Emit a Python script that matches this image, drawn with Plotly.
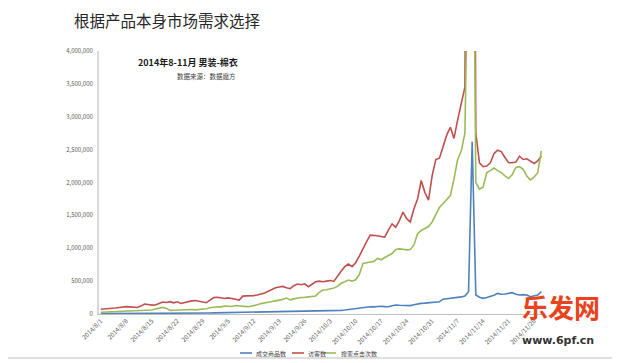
import pandas as pd
import plotly.graph_objects as go

dates = pd.date_range("2014-08-01", "2014-11-30", freq="D")
names = ["成交商品数", "访客数", "搜索点击次数"]
colors = ["#4F81BD", "#C0504D", "#9BBB59"]

deals = [5e3, 5e3, 6e3, 6e3, 7e3, 7e3, 8e3, 8e3, 8e3, 9e3, 9e3, 10e3, 10e3, 11e3, 11e3, 12e3, 13e3, 13e3, 12e3, 12e3,
         13e3, 13e3, 13e3, 14e3, 14e3, 15e3, 15e3, 15e3, 14e3, 15e3, 16e3, 17e3, 18e3, 18e3, 19e3, 19e3, 19e3, 20e3, 20e3, 21e3,
         22e3, 23e3, 24e3, 25e3, 26e3, 27e3, 28e3, 30e3, 32e3, 33e3, 35e3, 34e3, 33e3, 35e3, 36e3, 37e3, 37e3, 38e3, 38e3, 40e3,
         42e3, 44e3, 45e3, 46e3, 46e3, 50e3, 55e3, 60e3, 68e3, 75e3, 80e3, 87e3, 95e3, 100e3, 111e3, 108e3, 115e3, 118e3, 112e3, 110e3,
         125e3, 137e3, 132e3, 130e3, 128e3, 127e3, 140e3, 155e3, 162e3, 165e3, 168e3, 172e3, 180e3, 187e3, 225e3, 232e3, 238e3, 235e3, 245e3, 260e3,
         275e3, 340e3, 2.62e6, 289e3, 255e3, 238e3, 250e3, 263e3, 285e3, 314e3, 300e3, 305e3, 320e3, 324e3, 300e3, 289e3, 295e3, 290e3, 263e3, 275e3,
         289e3, 340e3]

visitors = [72e3, 75e3, 78e3, 85e3, 92e3, 100e3, 110e3, 112e3, 108e3, 104e3, 100e3, 120e3, 150e3, 145e3, 135e3, 138e3, 160e3, 182e3, 175e3, 188e3,
            170e3, 185e3, 160e3, 175e3, 195e3, 200e3, 205e3, 195e3, 180e3, 172e3, 210e3, 250e3, 255e3, 240e3, 235e3, 245e3, 230e3, 225e3, 212e3, 272e3,
            275e3, 272e3, 280e3, 290e3, 305e3, 318e3, 345e3, 378e3, 400e3, 410e3, 420e3, 400e3, 385e3, 430e3, 455e3, 445e3, 460e3, 416e3, 460e3, 490e3,
            500e3, 490e3, 500e3, 510e3, 495e3, 580e3, 650e3, 720e3, 760e3, 720e3, 780e3, 880e3, 1.00e6, 1.10e6, 1.20e6, 1.20e6, 1.19e6, 1.18e6, 1.17e6, 1.28e6,
            1.37e6, 1.32e6, 1.42e6, 1.55e6, 1.45e6, 1.40e6, 1.60e6, 1.75e6, 2.03e6, 1.85e6, 1.73e6, 2.10e6, 2.35e6, 2.37e6, 2.55e6, 2.72e6, 2.84e6, 2.67e6, 2.95e6, 3.20e6,
            3.45e6, 12e6, 15e6, 2.75e6, 2.30e6, 2.24e6, 2.25e6, 2.30e6, 2.44e6, 2.49e6, 2.47e6, 2.38e6, 2.30e6, 2.30e6, 2.31e6, 2.40e6, 2.35e6, 2.36e6, 2.33e6, 2.29e6,
            2.33e6, 2.40e6]

clicks = [26e3, 28e3, 30e3, 33e3, 35e3, 37e3, 40e3, 41e3, 43e3, 45e3, 48e3, 50e3, 52e3, 55e3, 60e3, 75e3, 90e3, 100e3, 85e3, 55e3,
          58e3, 60e3, 55e3, 60e3, 70e3, 68e3, 62e3, 65e3, 72e3, 80e3, 95e3, 105e3, 110e3, 108e3, 122e3, 118e3, 115e3, 130e3, 125e3, 111e3,
          112e3, 115e3, 125e3, 140e3, 158e3, 165e3, 180e3, 190e3, 200e3, 210e3, 222e3, 243e3, 215e3, 230e3, 245e3, 250e3, 253e3, 258e3, 263e3, 275e3,
          330e3, 365e3, 368e3, 380e3, 395e3, 420e3, 467e3, 490e3, 517e3, 500e3, 520e3, 600e3, 770e3, 780e3, 790e3, 800e3, 845e3, 825e3, 860e3, 890e3,
          920e3, 980e3, 990e3, 985e3, 975e3, 980e3, 1.05e6, 1.22e6, 1.27e6, 1.30e6, 1.33e6, 1.40e6, 1.50e6, 1.62e6, 1.68e6, 1.74e6, 1.80e6, 2.05e6, 2.35e6, 2.48e6,
          2.75e6, 6.0e6, 9.0e6, 2.00e6, 1.90e6, 1.93e6, 2.15e6, 2.18e6, 2.22e6, 2.18e6, 2.15e6, 2.10e6, 2.06e6, 2.12e6, 2.23e6, 2.24e6, 2.20e6, 2.10e6, 2.04e6, 2.08e6,
          2.15e6, 2.48e6]

series = [deals, visitors, clicks]

tick_dates = pd.date_range("2014-08-01", "2014-11-30", freq="7D")
tick_text = [f"{d.year}/{d.month}/{d.day}" for d in tick_dates]
y_ticks = list(range(0, 4000001, 500000))
y_text = [f"{v:,}" for v in y_ticks]

# page is offset by the browser's 8px body margin: lay out in (ref - 8) coordinates
OFF = 8
L, R, T, B = 99 - OFF, 545 - OFF, 51 - OFF, 314 - OFF
W, H = 620 - OFF, 363 - OFF
PW, PH = R - L, B - T


def px(x):
    return (x - OFF - L) / PW


def py(y):
    return (B - (y - OFF)) / PH


FONT = "Noto Sans CJK SC"
fig = go.Figure()
for name, vals, col in zip(names, series, colors):
    fig.add_trace(go.Scatter(x=dates, y=vals, mode="lines", name=name,
                             line=dict(color=col, width=1.6), showlegend=False))

fig.update_layout(
    width=W, height=H,
    margin=dict(l=L, r=W - R, t=T, b=H - B, autoexpand=False),
    paper_bgcolor="white", plot_bgcolor="white",
    font=dict(family=FONT, color="#595959", size=6),
    xaxis=dict(range=["2014-07-31 12:00", "2014-12-01 00:00"], tickvals=list(tick_dates), ticktext=tick_text,
               tickangle=-45, showgrid=False, showline=True, linecolor="#bfbfbf", linewidth=1,
               ticks="", tickfont=dict(size=6.3, color="#595959"), zeroline=False, automargin=False),
    yaxis=dict(range=[0, 4000000], tickvals=y_ticks, ticktext=y_text, showgrid=False,
               showline=True, linecolor="#d9d9d9", linewidth=2, ticks="", ticklen=0,
               ticklabelstandoff=3,
               tickfont=dict(size=6, color="#595959"), zeroline=False, automargin=False),
)

# Titles
fig.add_annotation(text="根据产品本身市场需求选择", xref="paper", yref="paper", x=px(73), y=py(8.5),
                   xanchor="left", yanchor="top", showarrow=False, borderpad=0,
                   font=dict(size=15.5, color="#262626", family=FONT))
fig.add_annotation(text="<b>2014年8-11月 男装-棉衣</b>", xref="paper", yref="paper", x=px(188), y=py(63),
                   xanchor="center", yanchor="middle", showarrow=False,
                   font=dict(size=9, color="#1a1a1a", family=FONT))
fig.add_annotation(text="数据来源：数据魔方", xref="paper", yref="paper", x=px(238), y=py(76),
                   xanchor="right", yanchor="middle", showarrow=False,
                   font=dict(size=6.5, color="#404040", family=FONT))

# Manual legend
leg = [(240, 253), (292, 305), (324, 338)]
for (x0, tx), name, col in zip(leg, names, colors):
    fig.add_shape(type="line", xref="paper", yref="paper",
                  x0=px(x0), x1=px(x0 + 12), y0=py(353), y1=py(353),
                  line=dict(color=col, width=1.6))
    fig.add_annotation(text=name, xref="paper", yref="paper", x=px(tx + 1), y=py(353),
                       xanchor="left", yanchor="middle", showarrow=False,
                       font=dict(size=6, color="#404040", family=FONT))

# Watermark text
fig.add_annotation(text="<b>乐发网</b>", xref="paper", yref="paper", x=px(520), y=py(306),
                   xanchor="left", yanchor="middle", showarrow=False,
                   font=dict(size=26, color="#E8431C", family=FONT))
fig.add_annotation(text="<b>www.6pf.cn</b>", xref="paper", yref="paper", x=px(520), y=py(340),
                   xanchor="left", yanchor="middle", showarrow=False,
                   font=dict(size=11, color="#333333", family="DejaVu Sans"))

# Slide bottom border
fig.add_shape(type="line", xref="paper", yref="paper", x0=px(0), x1=px(620),
              y0=py(358), y1=py(358), line=dict(color="#bfbfbf", width=1))

fig.write_html("out.html")
